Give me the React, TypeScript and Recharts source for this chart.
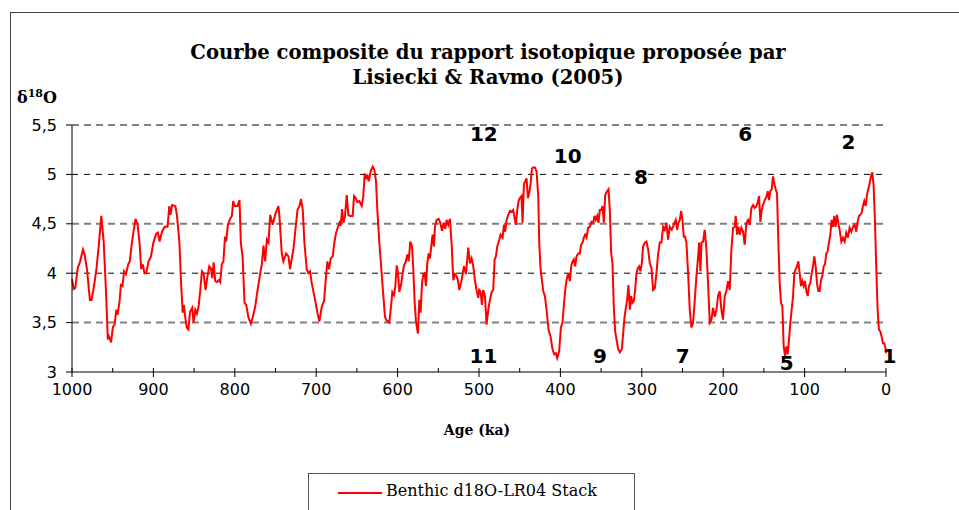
import { LineChart, Line, XAxis, YAxis, ReferenceLine, ReferenceDot, Legend } from "recharts";

// Age (ka), oldest first
const ages = [
  1000, 998, 996, 993, 990, 986.5, 984.5, 981.6, 978, 976, 973, 970, 967, 964, 961, 958, 956, 954.6, 952, 949.7,
  947.6, 945.6, 944, 941.5, 940, 938, 936, 933.7, 931, 929, 927, 925, 922, 919.4, 917, 915, 913, 911, 908.8, 906,
  903, 900, 896.5, 894.4, 892.4, 889.5, 886, 882.6, 880.5, 879, 877, 873, 871, 868, 866, 864, 862.5, 861, 859, 857,
  855, 852.3, 850.7, 848.6, 846.6, 844.5, 842.5, 840.4, 838.4, 836, 833.5, 831.4, 829.4, 827.7, 826, 824, 822, 819.6, 818, 816,
  814, 812, 810.6, 808.5, 805.7, 803.6, 802, 800, 796.7, 794.2, 792.6, 790.5, 788, 786, 783.2, 780.3, 777.8, 775, 772, 768.8,
  766.8, 764.7, 762.7, 760.6, 758.6, 756.5, 753.4, 750.5, 746.4, 745.2, 742.3, 740.3, 737, 734.1, 732.1, 730, 728, 725.9, 723, 720.6,
  718.6, 716.5, 714.5, 711.6, 709.6, 707.5, 705.5, 701.4, 698.5, 696.1, 693.2, 690.3, 688.3, 686.3, 684.2, 682.2, 679.7, 677.7, 675.6, 673.6,
  671.5, 669.9, 668.2, 666.6, 664.6, 662.5, 660.5, 658.4, 655.2, 653.5, 651.5, 649.4, 647, 644.1, 642.1, 640.4, 638.8, 637.2, 635.5, 633.1,
  630.6, 628.6, 626.5, 624.9, 622.4, 619.6, 617.5, 615.5, 613.4, 610.2, 608.1, 606.5, 604.4, 602.8, 601.1, 599.5, 597.9, 595.8, 593.8, 592.1,
  590.1, 588, 586.4, 584.4, 582.3, 580.7, 579, 577.4, 575, 573.3, 571.7, 570, 568.4, 566.8, 565.1, 563.5, 561.9, 560.2, 558.2, 557,
  555.3, 554.1, 552, 549.6, 547.5, 545.5, 543.5, 541.4, 539.8, 537.7, 535.7, 533.6, 531.6, 529.5, 527.5, 525.9, 524.2, 521.4, 518.5, 516,
  513.2, 511.1, 509.1, 507, 505, 503, 500.9, 499.7, 498, 496.4, 494.8, 492.7, 490.7, 488.6, 486.6, 484.5, 482.5, 480.8, 479.2, 477.6,
  475.1, 473.5, 471, 469.4, 467.8, 466.1, 464.1, 462, 460, 457.9, 455.9, 454.7, 453, 451.4, 449.8, 447.7, 446.5, 444.8, 443.2, 441.6,
  439.9, 438.3, 436.7, 435, 433.4, 431.3, 429.3, 427.2, 426, 424.4, 422.7, 421.1, 419.1, 417, 414.6, 412.1, 409.7, 407.6, 405.6, 403.9,
  401.5, 399.4, 397.4, 395.7, 394.1, 392.5, 390.4, 388.4, 386.7, 385.1, 383.5, 381.8, 380.2, 378.1, 376.1, 374.5, 372.8, 371.2, 369.6, 367.9,
  365.9, 363.8, 361.8, 359.7, 358.1, 356.5, 354.8, 353.2, 351.6, 349.9, 348.3, 346.6, 345, 343.4, 340.9, 339.3, 337.6, 336, 334.4, 332.7,
  331.1, 329, 327, 324.5, 322.9, 321.3, 319.6, 318, 316.4, 314.7, 313.1, 311.5, 309.8, 308.2, 306.5, 304.9, 303.3, 301.6, 300, 298.4,
  296.3, 294.3, 292.2, 290.2, 288.1, 286.1, 284, 282, 280, 277.9, 275.9, 273.8, 271.8, 269.7, 267.7, 265.6, 263.2, 260.7, 258.3, 256.6,
  255, 253.3, 251.7, 250.1, 248.4, 246.8, 245.2, 243.1, 241.1, 239, 237, 234.9, 232.9, 230.8, 229.6, 228, 226.7, 224.7, 222.7, 220.6,
  218.6, 216.5, 214.5, 212.4, 210.4, 208.3, 206.3, 204.3, 202.2, 200.2, 198.1, 196.1, 194, 192, 189.9, 187.9, 185.8, 184.6, 183, 181.3,
  179.7, 177.7, 175.6, 173.6, 171.5, 169.5, 167.4, 165.4, 163.3, 161.3, 159.2, 157.2, 156, 154.3, 152.7, 151.1, 149, 147, 145.3, 143.7,
  142.1, 140.4, 138.8, 137.1, 135.5, 133.9, 132.2, 130.6, 129, 127.3, 125.7, 124, 122.4, 120.8, 119.1, 117.5, 115.9, 114.2, 112.6, 111,
  109.3, 107.7, 106.1, 104.4, 102.8, 101.1, 99.5, 97.9, 96.2, 94.6, 93, 91.3, 89.7, 88.1, 86.4, 84.8, 83.1, 81.5, 79.9, 78.2,
  76.6, 75, 73.3, 71.7, 70.1, 68.4, 66.8, 65.1, 63.5, 61.9, 60.2, 58.6, 57, 54.9, 52.9, 50.8, 48.8, 46.7, 44.7, 42.6,
  40.6, 38.5, 36.5, 34.9, 33.2, 31.6, 30, 28.3, 26.7, 25, 23.4, 21.8, 20.1, 18.5, 16.8, 15.2, 13.6, 11.9, 10.3, 8.7,
  7, 5.4, 3.7, 2.1, 0.4, 0,
];

// Benthic d18O (per mil), same order as ages
const d18O = [
  3.94, 3.84, 3.85, 4.05, 4.12, 4.24, 4.19, 4.04, 3.73, 3.73, 3.87, 4.04, 4.29, 4.58, 4.31, 3.77, 3.33, 3.36, 3.3, 3.46,
  3.48, 3.63, 3.58, 3.72, 3.88, 3.87, 4.02, 3.99, 4.09, 4.12, 4.27, 4.39, 4.55, 4.49, 4.31, 4.04, 4.09, 4.0, 4.0, 4.12,
  4.17, 4.31, 4.4, 4.41, 4.32, 4.42, 4.47, 4.47, 4.68, 4.59, 4.69, 4.68, 4.58, 4.31, 3.9, 3.6, 3.68, 3.56, 3.45, 3.43,
  3.61, 3.65, 3.5, 3.63, 3.59, 3.66, 3.82, 4.02, 4.0, 3.83, 3.97, 4.07, 4.05, 3.95, 4.11, 3.92, 3.91, 3.93, 3.91, 4.09,
  4.12, 4.37, 4.32, 4.49, 4.55, 4.58, 4.73, 4.68, 4.68, 4.74, 4.31, 4.17, 3.7, 3.68, 3.55, 3.49, 3.56, 3.66, 3.83, 4.0,
  4.09, 4.28, 4.12, 4.34, 4.31, 4.59, 4.49, 4.59, 4.68, 4.58, 4.2, 4.12, 4.2, 4.17, 4.04, 4.15, 4.24, 4.41, 4.64, 4.68,
  4.75, 4.64, 4.31, 4.04, 4.0, 4.02, 3.9, 3.73, 3.6, 3.51, 3.66, 3.72, 3.93, 4.12, 4.04, 4.15, 4.17, 4.31, 4.41, 4.46,
  4.51, 4.48, 4.65, 4.51, 4.58, 4.79, 4.59, 4.58, 4.58, 4.78, 4.76, 4.72, 4.73, 4.68, 4.78, 5.01, 4.95, 5.0, 4.93, 5.03,
  5.08, 5.05, 4.93, 4.64, 4.31, 4.0, 3.77, 3.56, 3.52, 3.5, 3.66, 3.81, 3.78, 3.87, 4.08, 4.0, 3.81, 3.88, 4.0, 4.08,
  4.11, 4.19, 4.12, 4.32, 4.27, 4.04, 3.7, 3.51, 3.39, 3.73, 3.6, 3.9, 3.99, 4.0, 3.87, 4.1, 4.2, 4.15, 4.31, 4.39,
  4.27, 4.47, 4.54, 4.55, 4.51, 4.43, 4.51, 4.45, 4.54, 4.49, 4.55, 4.29, 3.93, 3.99, 3.97, 3.93, 3.83, 3.93, 4.07, 3.99,
  4.26, 4.1, 4.15, 4.07, 3.93, 3.83, 3.75, 3.83, 3.81, 3.68, 3.83, 3.77, 3.48, 3.63, 3.73, 3.81, 3.83, 4.14, 4.17, 4.27,
  4.34, 4.39, 4.36, 4.49, 4.42, 4.54, 4.59, 4.63, 4.62, 4.64, 4.54, 4.49, 4.64, 4.73, 4.76, 4.78, 4.51, 4.9, 4.93, 4.96,
  4.76, 4.81, 4.9, 5.06, 5.07, 5.07, 5.03, 4.78, 4.31, 4.04, 3.93, 3.82, 3.77, 3.63, 3.43, 3.36, 3.23, 3.18, 3.19, 3.14,
  3.21, 3.45, 3.5, 3.68, 3.83, 3.93, 4.0, 3.92, 4.07, 4.12, 4.14, 4.07, 4.17, 4.2, 4.2, 4.29, 4.31, 4.36, 4.39, 4.36,
  4.46, 4.47, 4.52, 4.51, 4.58, 4.54, 4.58, 4.51, 4.64, 4.64, 4.68, 4.51, 4.79, 4.82, 4.85, 4.64, 4.2, 4.1, 3.66, 3.41,
  3.33, 3.23, 3.2, 3.23, 3.39, 3.55, 3.65, 3.73, 3.88, 3.63, 3.77, 3.7, 3.72, 3.83, 4.0, 4.05, 4.07, 4.02, 4.1, 4.27,
  4.31, 4.32, 4.24, 4.1, 4.05, 3.83, 3.85, 4.0, 4.19, 4.31, 4.31, 4.47, 4.44, 4.51, 4.34, 4.47, 4.44, 4.49, 4.54, 4.44,
  4.51, 4.54, 4.63, 4.54, 4.37, 4.37, 4.31, 4.0, 3.63, 3.45, 3.5, 3.73, 3.97, 4.17, 4.31, 4.02, 4.31, 4.32, 4.44, 4.24,
  3.9, 3.5, 3.53, 3.65, 3.56, 3.63, 3.77, 3.82, 3.63, 3.53, 3.77, 3.82, 3.92, 3.83, 4.24, 4.46, 4.47, 4.58, 4.39, 4.47,
  4.39, 4.46, 4.42, 4.29, 4.51, 4.54, 4.49, 4.66, 4.69, 4.66, 4.68, 4.73, 4.78, 4.52, 4.64, 4.69, 4.74, 4.77, 4.83, 4.74,
  4.83, 4.85, 4.98, 4.9, 4.85, 4.81, 4.31, 3.9, 3.7, 3.66, 3.26, 3.16, 3.26, 3.18, 3.33, 3.5, 3.63, 3.77, 4.0, 4.04,
  4.07, 4.12, 4.0, 3.87, 3.92, 3.87, 3.92, 3.82, 3.77, 3.87, 3.9, 4.0, 4.07, 4.17, 4.07, 3.9, 3.82, 3.82, 3.93, 3.97,
  4.07, 4.09, 4.2, 4.22, 4.31, 4.39, 4.54, 4.47, 4.58, 4.47, 4.59, 4.51, 4.44, 4.32, 4.36, 4.32, 4.41, 4.36, 4.46, 4.42,
  4.47, 4.49, 4.42, 4.52, 4.58, 4.59, 4.61, 4.68, 4.73, 4.68, 4.79, 4.85, 4.91, 4.98, 5.02, 4.88, 4.54, 4.04, 3.63, 3.43,
  3.41, 3.36, 3.29, 3.29, 3.23, 3.19,
];

const yTicks = [3, 3.5, 4, 4.5, 5, 5.5];
const ageTicks = [0, 50, 100, 150, 200, 250, 300, 350, 400, 450, 500, 550, 600, 650, 700, 750, 800, 850, 900, 950, 1000];
const grayGrid = [3.5, 4.5, 5.5];
const blackGrid = [4, 5];

// marine isotope stage numbers placed on the chart
const stageNames = ["12", "10", "8", "6", "2", "11", "9", "7", "5", "1"];
const stageAges = [494, 391, 301, 173, 46, 494.5, 351.5, 249.7, 122, -4.4];
const stageValues = [5.41, 5.19, 4.97, 5.41, 5.33, 3.165, 3.165, 3.165, 3.094, 3.165];

const data = ages.map((age, i) => ({ age, value: d18O[i] }));

const AgeTick = ({ x, y, payload }: any) => {
  const major = payload.value % 100 === 0;
  return (
    <g>
      <line x1={x} x2={x} y1={y - 4} y2={major ? y + 5 : y} stroke="#000" />
      {major && (
        <text x={x} y={y + 17} textAnchor="middle" dominantBaseline="central" fontFamily="DejaVu Sans" fontSize={16} fill="#000">
          {payload.value}
        </text>
      )}
    </g>
  );
};

const StageLabel = (name: string) => (props: any) => (
  <text x={props.cx} y={props.cy} textAnchor="middle" dominantBaseline="central" fontFamily="DejaVu Sans" fontWeight="bold" fontSize={20} fill="#000">
    {name}
  </text>
);

const renderLegend = () => (
  <div style={{ border: "1px solid #555", height: 60, boxSizing: "border-box", background: "#fff", position: "relative" }}>
    <svg width={50} height={10} style={{ position: "absolute", left: 28, top: 14 }}>
      <line x1={1} x2={45} y1={5} y2={5} stroke="#ff0000" strokeWidth={2} />
    </svg>
    <span style={{ position: "absolute", left: 77, top: 7, fontFamily: "DejaVu Serif", fontSize: 16, color: "#000", whiteSpace: "nowrap" }}>
      Benthic d18O-LR04 Stack
    </span>
  </div>
);

export default function App() {
  return (
    <div style={{ position: "absolute", left: 0, top: 0, width: 959, height: 510, overflow: "hidden", background: "#fff" }}>
      <div style={{ position: "absolute", left: 10, top: 12, width: 1000, height: 600, border: "1px solid #444" }} />

      <div
        style={{
          position: "absolute", left: 138, top: 40, width: 700, textAlign: "center",
          fontFamily: "DejaVu Serif", fontWeight: "bold", fontSize: 19.6, lineHeight: "25px", color: "#000",
        }}
      >
        Courbe composite du rapport isotopique proposée par
        <br />
        Lisiecki &amp; Ravmo (2005)
      </div>

      <div style={{ position: "absolute", left: 17, top: 84, fontFamily: "DejaVu Serif", fontWeight: "bold", fontSize: 16, lineHeight: "20px", color: "#000" }}>
        δ<sup style={{ fontSize: 11 }}>18</sup>O
      </div>

      <div style={{ position: "absolute", left: 377, top: 420, width: 200, textAlign: "center", fontFamily: "DejaVu Serif", fontWeight: "bold", fontSize: 14, lineHeight: "20px", color: "#000" }}>
        Age (ka)
      </div>

      <div style={{ position: "absolute", left: 0, top: 0 }}>
        <LineChart width={959} height={510} data={data} margin={{ top: 125, right: 73, bottom: 108, left: 0 }}>
          <XAxis
            dataKey="age"
            type="number"
            domain={[0, 1000]}
            reversed
            ticks={ageTicks}
            interval={0}
            tickSize={0}
            tickMargin={0}
            tickLine={false}
            height={30}
            axisLine={{ stroke: "#000" }}
            tick={<AgeTick />}
          />
          <YAxis
            type="number"
            domain={[3, 5.5]}
            ticks={yTicks}
            interval={0}
            width={72}
            tickSize={6}
            tickMargin={9}
            axisLine={{ stroke: "#000" }}
            tickLine={{ stroke: "#000" }}
            tick={{ fill: "#000", fontSize: 16, fontFamily: "DejaVu Sans" }}
            tickFormatter={(v: number) => String(v).replace(".", ",")}
          />
          {grayGrid.map((v) => (
            <ReferenceLine key={"g" + v} y={v} stroke="#808080" strokeWidth={2} strokeDasharray="7 5" />
          ))}
          {blackGrid.map((v) => (
            <ReferenceLine key={"b" + v} y={v} stroke="#000" strokeWidth={1} strokeDasharray="6 6" />
          ))}
          <Line dataKey="value" type="linear" stroke="#ff0000" strokeWidth={2} dot={false} isAnimationActive={false} />
          {stageNames.map((name, i) => (
            <ReferenceDot key={name} x={stageAges[i]} y={stageValues[i]} r={0} ifOverflow="visible" shape={StageLabel(name)} />
          ))}
          <Legend
            verticalAlign="middle"
            align="center"
            layout="horizontal"
            wrapperStyle={{ left: 308, top: 473, width: 327, height: 60 }}
            content={renderLegend}
          />
        </LineChart>
      </div>
    </div>
  );
}
